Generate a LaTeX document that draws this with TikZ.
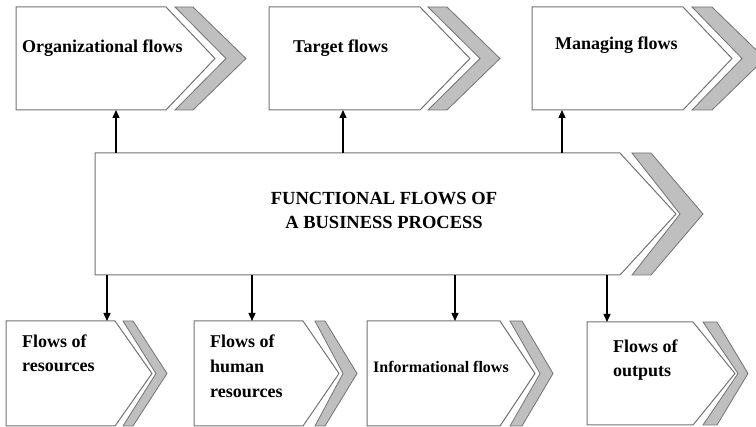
\documentclass[tikz,border=0pt]{standalone}
\usepackage{fontspec}
\setmainfont{Liberation Serif}
\usetikzlibrary{arrows.meta}

% Pentagon box with a grey chevron behind its tip.
% #1 left, #2 top, #3 bottom, #4 end of straight edges, #5 tip x,
% #6/#7 chevron start/end on the edges, #8 inner tip x, #9 outer tip x
\newcommand{\flowshape}[9]{%
  \filldraw[chevron] (#6,#2) -- (#7,#2) -- (#9,{(#2+#3)/2}) -- (#7,#3)
    -- (#6,#3) -- (#8,{(#2+#3)/2}) -- cycle;
  \filldraw[boxshape] (#1,#2) -- (#4,#2) -- (#5,{(#2+#3)/2}) -- (#4,#3)
    -- (#1,#3) -- cycle;
}

\tikzset{
  chevron/.style={fill=black!25, draw=black!55, line width=0.8pt, line join=miter},
  boxshape/.style={fill=white, draw=black!55, line width=1pt, line join=miter},
  lbl/.style={font=\bfseries\fontsize{18}{24}\selectfont, inner sep=0pt,
    anchor=base west, align=left},
  title/.style={font=\bfseries\fontsize{18.5}{24}\selectfont, inner sep=0pt,
    anchor=base, align=center},
  arr/.style={-{Triangle[length=8pt,width=7pt]}, line width=1.3pt, black}
}

\begin{document}
\begin{tikzpicture}[x=1pt,y=-1pt]
\useasboundingbox (0,0) rectangle (756,427);
\clip (0,0) rectangle (756,427);

% upper row
\flowshape{16}{7}{110}{166}{215}{175}{193}{226}{246}
\flowshape{269}{7}{110}{420}{470}{428}{447}{480}{500}
\flowshape{532}{7}{110}{683}{732}{692}{712}{742}{765}

% central process
\flowshape{95}{153}{275}{620}{676}{632}{651}{680}{703}

% lower row
\flowshape{6}{321}{426}{115}{152}{123}{133}{156}{167}
\flowshape{194}{321}{426}{303}{339}{315}{325}{343}{357}
\flowshape{367}{321}{426}{500}{535}{510}{522}{540}{553}
\flowshape{587}{322}{425}{693}{735}{703}{717}{738}{748}

% labels (multi-line nodes are placed by the baseline of their last line)
\node[lbl] (org) at (22,53) {Organizational flows};
\node[lbl] (target) at (293,53) {Target flows};
\node[lbl] (manage) at (555,50) {Managing flows};
\node[title] (main) at (384,229) {FUNCTIONAL FLOWS OF\\A BUSINESS PROCESS};
\node[lbl] (res) at (22,372) {Flows of\\resources};
\node[lbl, font=\bfseries\fontsize{18}{25}\selectfont] (human) at (210,398) {Flows of\\human\\resources};
\node[lbl, font=\bfseries\fontsize{16}{20}\selectfont] (info) at (373,373) {Informational flows};
\node[lbl] (outp) at (613,377) {Flows of\\outputs};

% connector ports
\coordinate (main-nw) at (95,153);
\coordinate (main-sw) at (95,275);
\coordinate (org-port) at (116,110);
\coordinate (target-port) at (343,110);
\coordinate (manage-port) at (562,110);
\coordinate (res-port) at (107,321);
\coordinate (human-port) at (252,321);
\coordinate (info-port) at (455,321);
\coordinate (outp-port) at (607,322);

% connectors
\foreach \p in {org,target,manage}
  \draw[arr] (\p-port |- main-nw) -- (\p-port);
\foreach \p in {res,human,info,outp}
  \draw[arr] (\p-port |- main-sw) -- (\p-port);
\end{tikzpicture}
\end{document}
